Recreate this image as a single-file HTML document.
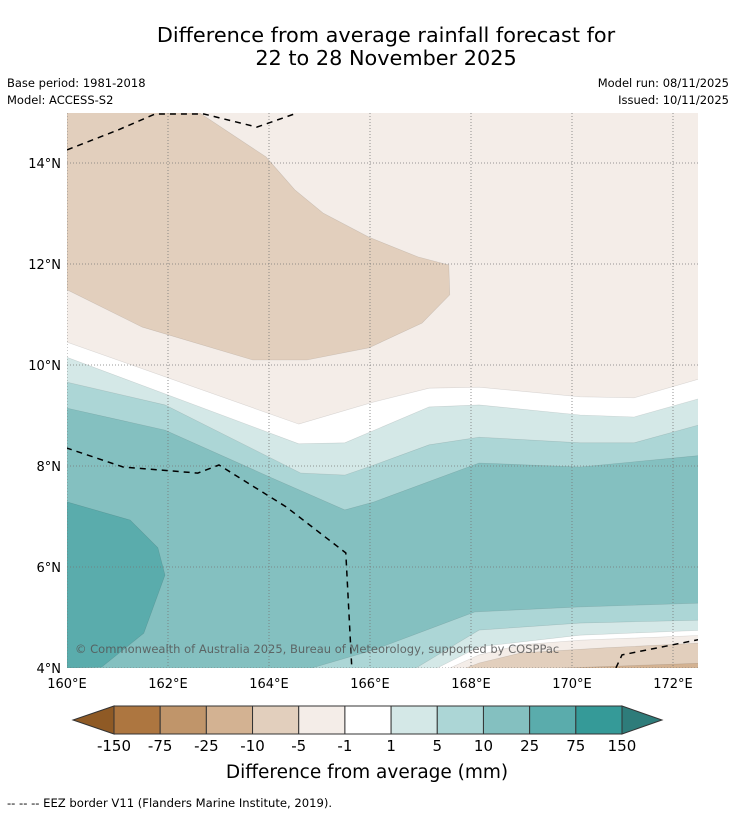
<!DOCTYPE html>
<html><head><meta charset="utf-8">
<style>
body{margin:0;background:#fff;}
svg{display:block;font-family:"DejaVu Sans","Liberation Sans",sans-serif;}
</style></head>
<body>
<svg id="chart" width="736" height="816" viewBox="0 0 736 816">
<rect width="736" height="816" fill="#fff"/>
<text x="386" y="42" font-size="20.8" text-anchor="middle">Difference from average rainfall forecast for</text>
<text x="386" y="65" font-size="20.8" text-anchor="middle">22 to 28 November 2025</text>
<text x="7" y="87" font-size="11.5">Base period: 1981-2018</text>
<text x="7" y="104" font-size="11.5">Model: ACCESS-S2</text>
<text x="729" y="87" font-size="11.5" text-anchor="end">Model run: 08/11/2025</text>
<text x="729" y="104" font-size="11.5" text-anchor="end">Issued: 10/11/2025</text>
<defs><clipPath id="mapclip"><rect x="67" y="113" width="631" height="555"/></clipPath></defs>
<g id="map" clip-path="url(#mapclip)"></g>
<g id="axes"></g>
<g id="cbar"></g>
<text x="367" y="778" font-size="18.5" text-anchor="middle">Difference from average (mm)</text>
<text x="7" y="807" font-size="11.6">-- -- -- EEZ border V11 (Flanders Marine Institute, 2019).</text>
</svg>
<script>
const lonTicks=[160,162,164,166,168,170,172];
const latTicks=[4,6,8,10,12,14];
const tanBlob=[[160,15],[162.63,14.99],[163.94,14.12],[164.51,13.47],[165.07,13.01],[165.98,12.53],[166.95,12.14],[167.56,11.98],[167.58,11.39],[167.03,10.83],[165.98,10.34],[164.75,10.10],[163.68,10.10],[161.49,10.75],[160,11.49]];
const whiteTop=[[159.98,10.46],[164.59,8.83],[166.08,9.27],[167.17,9.54],[168.16,9.56],[170.16,9.37],[171.23,9.35],[172.65,9.76]];
const band5Top=[[159.98,10.16],[164.59,8.44],[165.5,8.46],[167.17,9.17],[168.16,9.21],[170.16,9.01],[171.23,8.97],[172.65,9.37]];
const band10Top=[[160,9.66],[161.94,9.21],[164.63,7.86],[165.5,7.82],[166.08,8.02],[167.17,8.42],[168.16,8.57],[170.16,8.46],[171.23,8.46],[172.65,8.85]];
const band25Top=[[159.98,9.15],[161.94,8.71],[164.02,7.78],[165.5,7.13],[166.08,7.29],[168.16,8.06],[170.16,7.98],[172.65,8.22]];
const blob75=[[160,7.29],[161.25,6.93],[161.8,6.38],[161.94,5.84],[161.52,4.69],[160.69,4.02],[160,4]];
const bot10=[[164.85,4],[166.08,4.36],[168.08,5.11],[170.16,5.21],[172.65,5.29]];
const bot5=[[166.91,4],[168.16,4.75],[170.16,4.89],[172.65,4.95]];
const botWhite=[[167.33,4],[168.16,4.42],[170.16,4.65],[172.65,4.75]];
const botNeg1=[[167.58,4],[168.16,4.26],[168.99,4.46],[170.16,4.55],[172.65,4.65]];
const botNeg5=[[167.9,4],[168.16,4.10],[168.99,4.30],[170.65,4.40],[172.65,4.50]];
const botNeg10=[[169.82,4],[172.65,4.10]];
const eezTop=[[160,14.26],[161.0,14.65],[161.74,14.97],[162.71,14.97],[163.76,14.71],[164.5,14.97]];
const eezMid=[[159.98,8.36],[161.11,7.98],[162.59,7.86],[163.01,8.02],[164.34,7.19],[165.52,6.28],[165.64,4]];
const eezBR=[[170.87,4],[170.99,4.26],[172.65,4.59]];
const cbLabels=["-150","-75","-25","-10","-5","-1","1","5","10","25","75","150"];
const cbColors=["#ad7640","#c0956a","#d3b292","#e2cfbd","#f4ede8","#ffffff","#d4e8e7","#acd6d6","#84c0c0","#5aacac","#359a98"];

const NS="http://www.w3.org/2000/svg";
const X=lon=>67+(lon-160)*50.5;
const Y=lat=>668-(lat-4)*50.5;
function mk(tag,attrs,parent){const e=document.createElementNS(NS,tag);for(const k in attrs)e.setAttribute(k,attrs[k]);parent.appendChild(e);return e;}
const map=document.getElementById('map');
const pts=a=>a.map(p=>X(p[0]).toFixed(1)+','+Y(p[1]).toFixed(1)).join(' ');
mk('rect',{x:60,y:100,width:660,height:580,fill:'#f4ede8'},map);
function topFill(arr,col,name){const p=pts(arr)+' '+X(173)+','+Y(3.5)+' '+X(159.5)+','+Y(3.5);
 const e=mk('polygon',{points:p,fill:col,stroke:'rgba(0,0,0,0.12)','stroke-width':0.6},map);
 
 }
function botFill(arr,col,name){const p=pts(arr)+' '+X(173)+','+Y(3.5)+' '+X(arr[0][0])+','+Y(3.5);
 const e=mk('polygon',{points:p,fill:col,stroke:'rgba(0,0,0,0.12)','stroke-width':0.6},map);
 
 }
let t=mk('polygon',{points:pts(tanBlob),fill:'#e2cfbd',stroke:'rgba(0,0,0,0.12)','stroke-width':0.6},map);


topFill(whiteTop,'#ffffff','contour-minus1-to-1');
topFill(band5Top,'#d4e8e7','contour-1-to-5');
topFill(band10Top,'#acd6d6','contour-5-to-10');
topFill(band25Top,'#84c0c0','contour-10-to-25');
t=mk('polygon',{points:pts(blob75),fill:'#5aacac',stroke:'rgba(0,0,0,0.12)','stroke-width':0.6},map);


botFill(bot10,'#acd6d6','contour-south-5-to-10');
botFill(bot5,'#d4e8e7','contour-south-1-to-5');
botFill(botWhite,'#ffffff','contour-south-minus1-to-1');
botFill(botNeg1,'#f4ede8','contour-south-minus5-to-minus1');
botFill(botNeg5,'#e2cfbd','contour-south-minus10-to-minus5');
botFill(botNeg10,'#d3b292','contour-south-minus25-to-minus10');
lonTicks.forEach(l=>{const e=mk('line',{x1:X(l),x2:X(l),y1:113,y2:668,stroke:'#777','stroke-width':0.8,'stroke-dasharray':'1,2'},map);
 
 });
latTicks.forEach(l=>{const e=mk('line',{x1:67,x2:698,y1:Y(l),y2:Y(l),stroke:'#777','stroke-width':0.8,'stroke-dasharray':'1,2'},map);
 
 });
[eezTop,eezMid,eezBR].forEach(a=>{const e=mk('polyline',{points:pts(a),fill:'none',stroke:'#000','stroke-width':1.5,'stroke-dasharray':'6,5'},map);
 
 });
let c=mk('text',{x:75,y:653,'font-size':11.5,fill:'#555','fill-opacity':0.85},map);
c.textContent='© Commonwealth of Australia 2025, Bureau of Meteorology, supported by COSPPac';


const ax=document.getElementById('axes');
lonTicks.forEach(l=>{const e=mk('text',{x:X(l),y:688,'font-size':13,'text-anchor':'middle'},ax);e.textContent=l+'°E';
 
 });
latTicks.forEach(l=>{const e=mk('text',{x:61,y:Y(l)+5,'font-size':13,'text-anchor':'end'},ax);e.textContent=l+'°N';
 
 });
const cb=document.getElementById('cbar');
const x0=114,x1=622,y0=706,y1=734,w=(x1-x0)/cbColors.length;
let e=mk('polygon',{points:`${x0},${y0} ${x0},${y1} 73,720`,fill:'#8f5a25',stroke:'#333','stroke-width':1},cb);


e=mk('polygon',{points:`${x1},${y0} ${x1},${y1} 662,720`,fill:'#2e7c7a',stroke:'#333','stroke-width':1},cb);


cbColors.forEach((col,i)=>{const r=mk('rect',{x:x0+i*w,y:y0,width:w,height:y1-y0,fill:col,stroke:'#333','stroke-width':1},cb);
 
 });
cbLabels.forEach((lb,i)=>{const tx=mk('text',{x:x0+i*w,y:751,'font-size':15,'text-anchor':'middle'},cb);tx.textContent=lb;
 
 });
</script>
</body></html>
